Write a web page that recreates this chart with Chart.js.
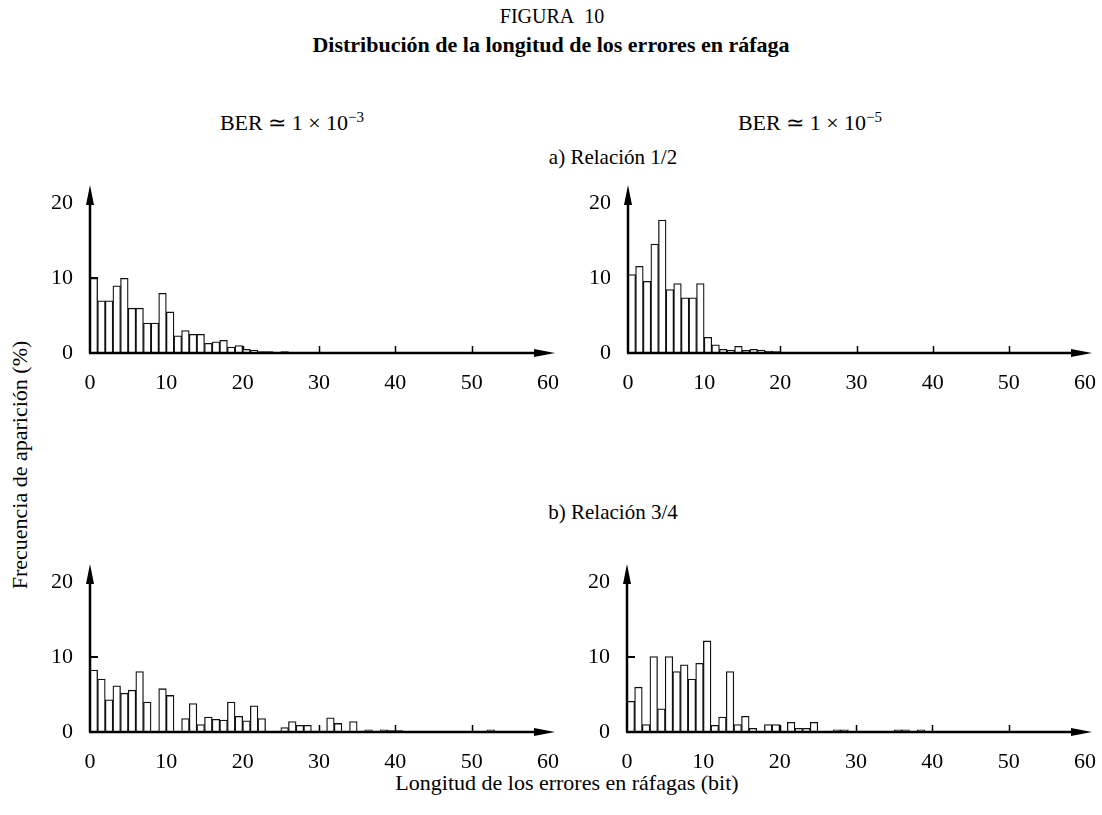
<!DOCTYPE html>
<html>
<head>
<meta charset="utf-8">
<script src="https://cdn.jsdelivr.net/npm/chart.js@4/dist/chart.umd.min.js"></script>
<style>
  body { margin: 0; background: #fff; width: 1102px; height: 815px; position: relative; overflow: hidden; font-family: 'Liberation Serif', 'Times New Roman', serif; color: #000; }
  .txt { position: absolute; transform: translate(-50%, -50%); white-space: nowrap; font-size: 22px; }
  .panel { position: absolute; }
  sup { font-size: 15px; vertical-align: 8px; line-height: 0; }
</style>
</head>
<body>
<div class="txt" style="left:552px; top:16px; font-size:20px;">FIGURA&nbsp;&nbsp;10</div>
<div class="txt" style="left:551px; top:45px; font-size:22px; font-weight:bold;">Distribución de la longitud de los errores en ráfaga</div>
<div class="txt" style="left:292px; top:123px;">BER ≃ 1 × 10<sup>−3</sup></div>
<div class="txt" style="left:810px; top:123px;">BER ≃ 1 × 10<sup>−5</sup></div>
<div class="txt" style="left:613px; top:157px; font-size:21px;">a) Relación 1/2</div>
<div class="txt" style="left:613px; top:512px; font-size:21px;">b) Relación 3/4</div>
<div class="txt" style="left:20px; top:465px; transform: translate(-50%, -50%) rotate(-90deg);">Frecuencia de aparición (%)</div>
<div class="txt" style="left:567px; top:783px;">Longitud de los errores en ráfagas (bit)</div>

<canvas id="tl" class="panel" style="left:20px; top:170px;" width="550" height="230"></canvas>
<canvas id="tr" class="panel" style="left:558px; top:170px;" width="544" height="230"></canvas>
<canvas id="bl" class="panel" style="left:20px; top:549px;" width="550" height="230"></canvas>
<canvas id="br" class="panel" style="left:557px; top:549px;" width="545" height="230"></canvas>

<script>
'use strict'

// frecuencia (%) por longitud de ráfaga (bit), desde 0
var ber3Rate12 = [10, 7, 7, 9, 10, 6, 6, 4, 4, 8, 5.5, 2.3, 3, 2.5, 2.5, 1.3, 1.5, 1.7, 0.8, 1.0, 0.5, 0.4, 0.2, 0.2, 0, 0.2];
var ber5Rate12 = [10.5, 11.6, 9.6, 14.6, 17.8, 8.5, 9.3, 7.4, 7.4, 9.3, 2.1, 1.1, 0.5, 0.4, 0.9, 0.35, 0.5, 0.4, 0.25, 0.2];
var ber3Rate34 = [8.3, 7.1, 4.3, 6.2, 5.2, 5.6, 8.1, 4.0, 0, 5.8, 4.9, 0, 1.8, 3.8, 1.0, 2.0, 1.7, 1.6, 4.0, 2.1,
  1.5, 3.5, 1.8, 0, 0, 0.6, 1.4, 0.9, 0.9, 0, 0, 1.9, 1.15, 0, 1.4, 0, 0.3, 0.1, 0.3, 0.2,
  0.2, 0, 0, 0, 0, 0, 0, 0, 0, 0, 0, 0, 0.3];
var ber5Rate34 = [4.1, 6.0, 1.0, 10.1, 3.1, 10.1, 8.1, 9.0, 7.1, 9.2, 12.2, 0.9, 2.0, 8.1, 1.0, 2.1, 0.5, 0, 1.0, 1.0,
  0, 1.3, 0.5, 0.5, 1.3, 0, 0, 0.3, 0.3, 0, 0, 0, 0, 0, 0, 0.3, 0.3, 0, 0.3];

var xTicks = [0, 10, 20, 30, 40, 50, 60];
var yTicks = [0, 10, 20];
var xMax = 60;
var yMax = 22.5;

var tickFont = { family: "'Liberation Serif', 'Times New Roman', serif", size: 22 };

// ejes con flecha y marcas hacia dentro
var innerTicks = {
  id: 'innerTicks',
  beforeDatasetsDraw: function(chart) {
    var ctx = chart.ctx;
    var xs = chart.scales.x;
    var ys = chart.scales.y;
    var x0 = xs.getPixelForValue(0);
    var y0 = ys.getPixelForValue(0);
    ctx.save();
    ctx.strokeStyle = '#000';
    ctx.lineWidth = 1.5;
    ctx.beginPath();
    for (var i = 1; i < xTicks.length - 1; i++) {
      var px = Math.round(xs.getPixelForValue(xTicks[i])) + 0.5;
      ctx.moveTo(px, y0);
      ctx.lineTo(px, y0 - 7);
    }
    ctx.stroke();
    ctx.lineWidth = 2;
    ctx.beginPath();
    var py = Math.round(ys.getPixelForValue(10));
    ctx.moveTo(x0, py);
    ctx.lineTo(x0 + 8, py);
    ctx.stroke();
    ctx.restore();
  },
  afterDatasetsDraw: function(chart) {
    var ctx = chart.ctx;
    var xs = chart.scales.x;
    var ys = chart.scales.y;
    var x0 = Math.round(xs.getPixelForValue(0));
    var y0 = Math.round(ys.getPixelForValue(0));
    var xEnd = chart.chartArea.right + 7;
    var yEnd = chart.chartArea.top;
    ctx.save();
    ctx.strokeStyle = '#000';
    ctx.fillStyle = '#000';
    ctx.lineWidth = 2.5;
    ctx.beginPath();
    ctx.moveTo(x0 - 1, y0);
    ctx.lineTo(xEnd - 10, y0);
    ctx.moveTo(x0, y0);
    ctx.lineTo(x0, yEnd + 10);
    ctx.stroke();
    ctx.beginPath();
    ctx.moveTo(xEnd, y0);
    ctx.lineTo(xEnd - 21, y0 - 4);
    ctx.lineTo(xEnd - 21, y0 + 4);
    ctx.closePath();
    ctx.fill();
    ctx.beginPath();
    ctx.moveTo(x0, yEnd);
    ctx.lineTo(x0 - 4, yEnd + 20);
    ctx.lineTo(x0 + 4, yEnd + 20);
    ctx.closePath();
    ctx.fill();
    ctx.restore();
  }
};

function makePanel(id, values, padRight) {
  var points = [];
  for (var i = 0; i < values.length; i++) {
    points.push({ x: i + 0.5, y: values[i] });
  }
  return new Chart(document.getElementById(id), {
    type: 'bar',
    data: {
      datasets: [{
        data: points,
        backgroundColor: '#fff',
        borderColor: '#111',
        borderWidth: 1.3,
        barPercentage: 1,
        categoryPercentage: 1
      }]
    },
    options: {
      responsive: false,
      animation: false,
      events: [],
      layout: { padding: { top: 15, right: padRight, left: 0, bottom: 0 } },
      plugins: { legend: { display: false }, tooltip: { enabled: false } },
      scales: {
        x: {
          type: 'linear',
          offset: false,
          min: 0,
          max: xMax,
          grid: { display: false, drawTicks: false },
          border: { display: false },
          afterBuildTicks: function(s) { s.ticks = xTicks.map(function(v) { return { value: v }; }); },
          afterFit: function(s) { s.height = 47; s.paddingLeft = 0; s.paddingRight = 0; },
          ticks: { font: tickFont, color: '#000', padding: 17, maxRotation: 0, autoSkip: false }
        },
        y: {
          min: 0,
          max: yMax,
          grid: { display: false, drawTicks: false },
          border: { display: false },
          afterBuildTicks: function(s) { s.ticks = yTicks.map(function(v) { return { value: v }; }); },
          afterFit: function(s) { s.width = 70; s.paddingTop = 0; s.paddingBottom = 0; },
          ticks: { font: tickFont, color: '#000', padding: 17 }
        }
      }
    },
    plugins: [innerTicks]
  });
}

makePanel('tl', ber3Rate12, 22);
makePanel('tr', ber5Rate12, 17);
makePanel('bl', ber3Rate34, 22);
makePanel('br', ber5Rate34, 17);
</script>
</body>
</html>
